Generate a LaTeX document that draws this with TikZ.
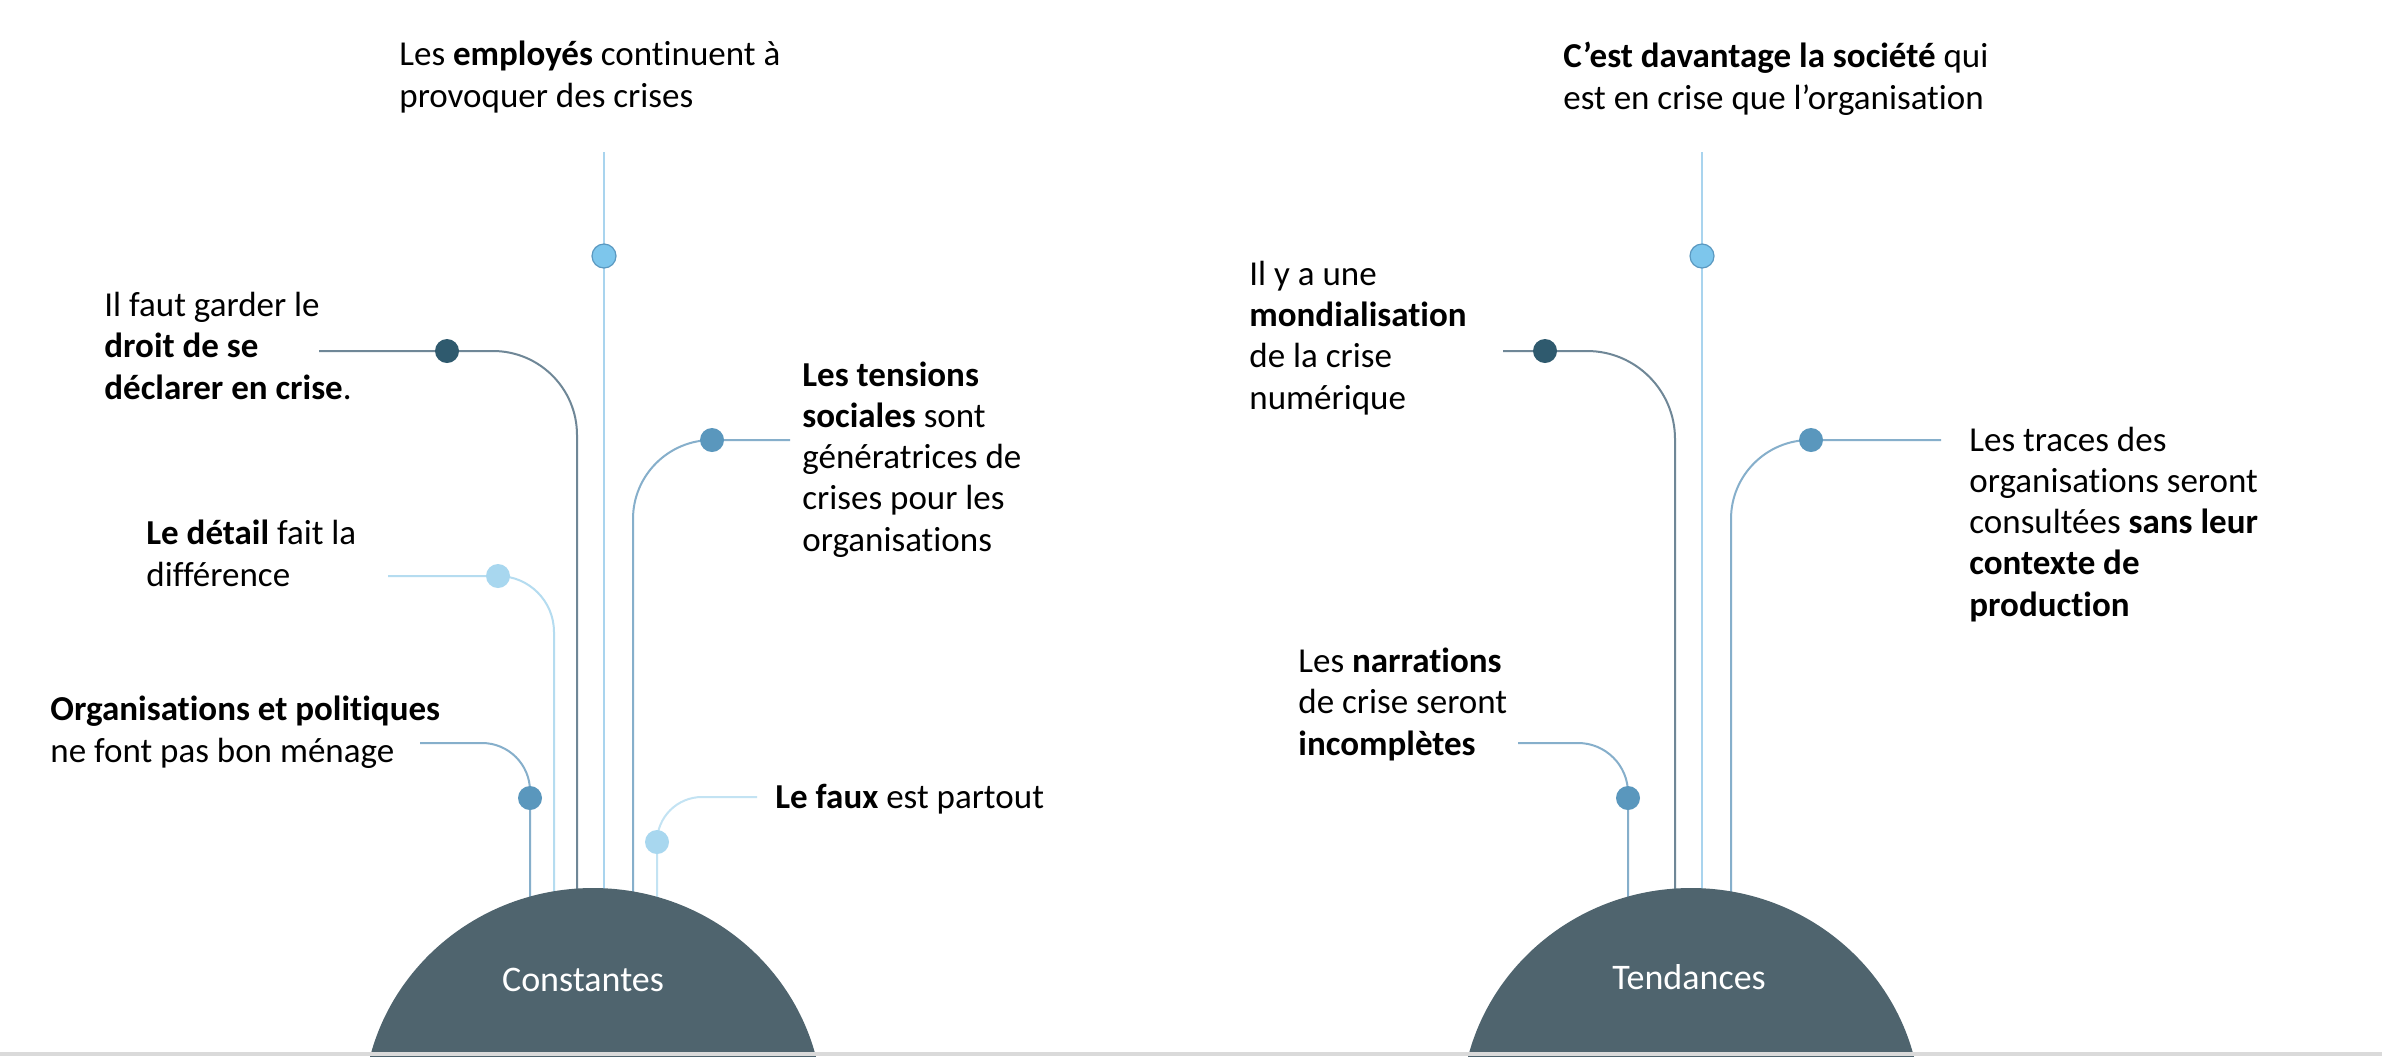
\documentclass[tikz,border=0pt]{standalone}
\usepackage{fontspec}
\setmainfont[Ligatures={NoCommon}]{Carlito}
\definecolor{domec}{HTML}{4F646E}
\definecolor{dotdark}{HTML}{2F5A6E}
\definecolor{dotmid}{HTML}{5A97BD}
\definecolor{dotlight}{HTML}{A8D7EF}
\definecolor{dottop}{HTML}{7DC6EC}
\definecolor{dottopedge}{HTML}{5A98C0}
\definecolor{lncenter}{HTML}{A9D4EE}
\definecolor{lngray}{HTML}{6F8797}
\definecolor{lnmid}{HTML}{86AFCB}
\definecolor{lnlight}{HTML}{B5DCF0}
\definecolor{lnfaux}{HTML}{C3E3F3}
\definecolor{stripc}{HTML}{DADADA}
\begin{document}
\begin{tikzpicture}[x=0.5pt,y=-0.5pt,
  txt/.style={anchor=base west, align=left, inner sep=0pt, font=\fontsize{17.5pt}{20.6pt}\selectfont},
  domelabel/.style={anchor=base, inner sep=0pt, text=white, font=\fontsize{18pt}{20.6pt}\selectfont},
  dotnode/.style={circle, inner sep=0pt, minimum size=12pt},
  conn/.style={line width=1pt}]
\useasboundingbox (0,0) rectangle (2382,1056);
\fill[white] (0,0) rectangle (2382,1056);

% ---------- coordinates ----------
% left
\coordinate (cTop) at (604,152);      \coordinate (cEnd) at (604,1000);
\coordinate (drS) at (319,351);  \coordinate (drC) at (577,351);  \coordinate (drE) at (577,1000);
\coordinate (tsS) at (790,440);  \coordinate (tsC) at (633,440);  \coordinate (tsE) at (633,1000);
\coordinate (deS) at (388,576);  \coordinate (deC) at (554,576);  \coordinate (deE) at (554,1000);
\coordinate (orS) at (420,743);  \coordinate (orC) at (530,743);  \coordinate (orE) at (530,1000);
\coordinate (faS) at (757,797);  \coordinate (faC) at (657,797);  \coordinate (faE) at (657,1000);
% right
\coordinate (rTop) at (1702,152);     \coordinate (rEnd) at (1702,1000);
\coordinate (moS) at (1503,351); \coordinate (moC) at (1675,351); \coordinate (moE) at (1675,1000);
\coordinate (trS) at (1941,440); \coordinate (trC) at (1731,440); \coordinate (trE) at (1731,1000);
\coordinate (naS) at (1518,743); \coordinate (naC) at (1628,743); \coordinate (naE) at (1628,1000);

% ---------- connectors ----------
\draw[conn, lncenter] (cTop) -- (cEnd);
\draw[conn, lngray, rounded corners=42pt] (drS) -- (drC) -- (drE);
\draw[conn, lnmid, rounded corners=39.5pt] (tsS) -- (tsC) -- (tsE);
\draw[conn, lnlight, rounded corners=28pt] (deS) -- (deC) -- (deE);
\draw[conn, lnmid, rounded corners=24pt] (orS) -- (orC) -- (orE);
\draw[conn, lnfaux, rounded corners=22.5pt] (faS) -- (faC) -- (faE);

\draw[conn, lncenter] (rTop) -- (rEnd);
\draw[conn, lngray, rounded corners=44pt] (moS) -- (moC) -- (moE);
\draw[conn, lnmid, rounded corners=39.5pt] (trS) -- (trC) -- (trE);
\draw[conn, lnmid, rounded corners=25pt] (naS) -- (naC) -- (naE);

% ---------- dots ----------
\node[dotnode, fill=dottop, draw=dottopedge, line width=0.6pt] (dTop) at (604,256) {};
\node[dotnode, fill=dotdark] (dDroit) at (447,351) {};
\node[dotnode, fill=dotmid] (dTens) at (712,440) {};
\node[dotnode, fill=dotlight] (dDet) at (498,576) {};
\node[dotnode, fill=dotmid] (dOrg) at (530,798) {};
\node[dotnode, fill=dotlight] (dFaux) at (657,842) {};

\node[dotnode, fill=dottop, draw=dottopedge, line width=0.6pt] (dSoc) at (1702,256) {};
\node[dotnode, fill=dotdark] (dMond) at (1545,351) {};
\node[dotnode, fill=dotmid] (dTrac) at (1811,440) {};
\node[dotnode, fill=dotmid] (dNarr) at (1628,798) {};

% ---------- domes ----------
\begin{scope}
\clip (0,0) rectangle (2382,1056);
\fill[domec] (593,1112) ellipse [x radius=230, y radius=224];
\fill[domec] (1691,1112) ellipse [x radius=230, y radius=224];
\fill[stripc] (0,1051.5) rectangle (2382,1056);
\end{scope}
\node[domelabel] (lConst) at (583,991) {Constantes};
\node[domelabel] (lTend) at (1689,989) {Tendances};

% ---------- texts (anchored at the baseline of the last line) ----------
\node[txt] (tEmp) at (399,107) {Les \textbf{employés} continuent à\\provoquer des crises};
\node[txt] (tDroit) at (104,399) {Il faut garder le\\\textbf{droit de se}\\\textbf{déclarer en crise}.};
\node[txt] (tTens) at (802,551) {\textbf{Les tensions}\\\textbf{sociales} sont\\génératrices de\\crises pour les\\organisations};
\node[txt] (tDet) at (146,586) {\textbf{Le détail} fait la\\différence};
\node[txt] (tOrg) at (50,762) {\textbf{Organisations et politiques}\\ne font pas bon ménage};
\node[txt] (tFaux) at (775,808) {\textbf{Le faux} est partout};

\node[txt] (tSoc) at (1563,109) {\textbf{C’est davantage la société} qui\\est en crise que l’organisation};
\node[txt] (tMond) at (1249,409) {Il y a une\\\textbf{mondialisation}\\de la crise\\numérique};
\node[txt] (tTrac) at (1969,616) {Les traces des\\organisations seront\\consultées \textbf{sans leur}\\\textbf{contexte de}\\\textbf{production}};
\node[txt] (tNarr) at (1298,755) {Les \textbf{narrations}\\de crise seront\\\textbf{incomplètes}};
\end{tikzpicture}
\end{document}
